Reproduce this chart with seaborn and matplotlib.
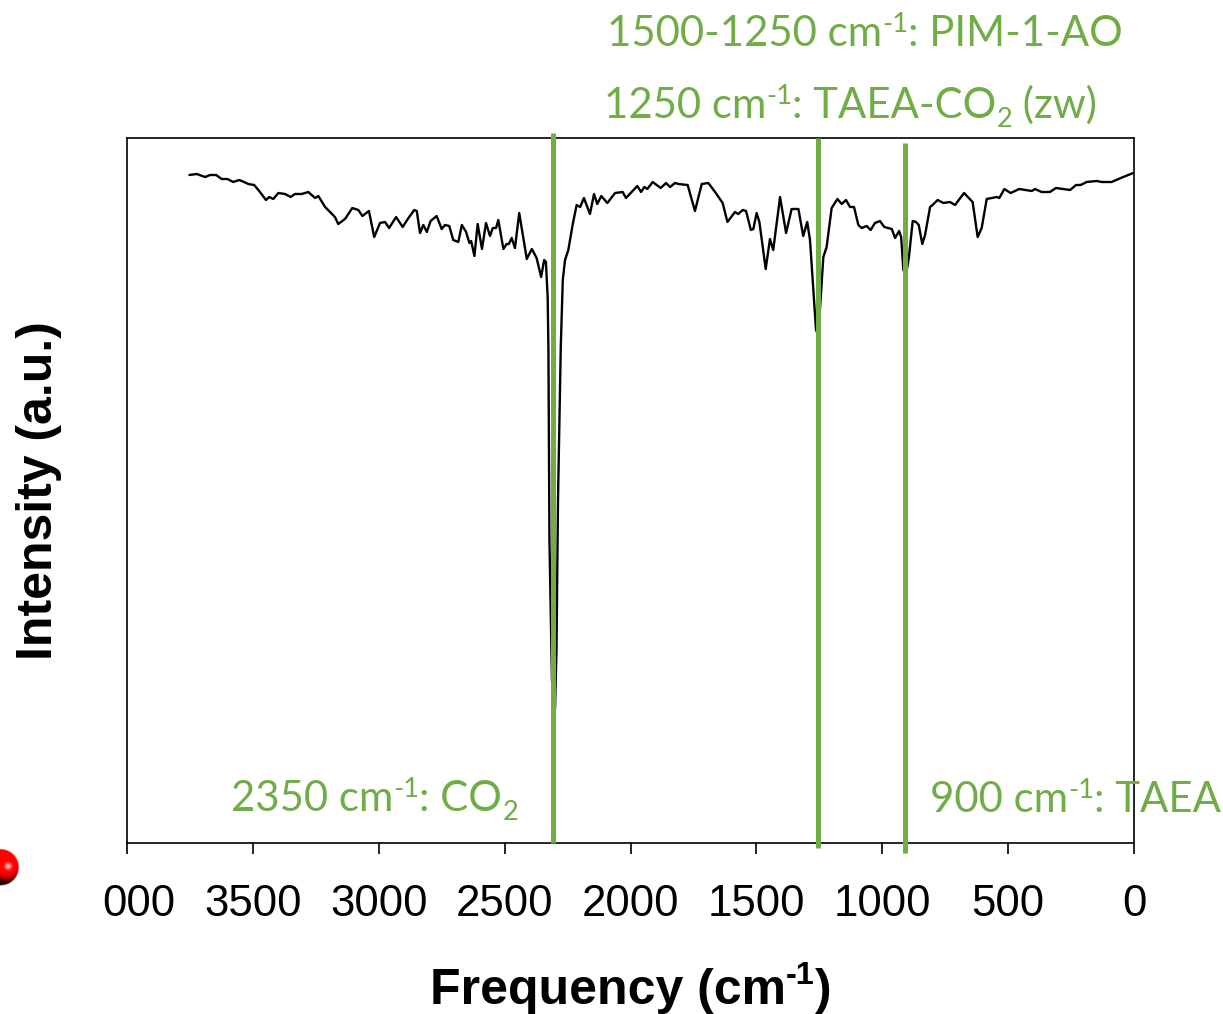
"""IR spectrum with annotated CO2 / TAEA band positions."""
import matplotlib
matplotlib.use("Agg")
import matplotlib.pyplot as plt
from matplotlib.transforms import ScaledTranslation
import numpy as np
import seaborn as sns

W, H = 1223, 1014
GREEN = "#70AD47"

frequency = [
    3752, 3723, 3690, 3670, 3646, 3624, 3601, 3578, 3554, 3535, 3518, 3495, 3478, 3448, 3435, 3419,
    3399, 3372, 3350, 3333, 3306, 3280, 3253, 3240, 3213, 3174, 3161, 3134, 3105, 3081, 3065, 3039,
    3018, 2995, 2975, 2959, 2931, 2905, 2882, 2859, 2849, 2836, 2823, 2809, 2794, 2770, 2750, 2737,
    2720, 2704, 2684, 2670, 2653, 2640, 2633, 2620, 2607, 2590, 2574, 2558, 2547, 2534, 2525, 2505,
    2492, 2483, 2472, 2459, 2442, 2412, 2392, 2373, 2355, 2343, 2336, 2329, 2326, 2322, 2312, 2300,
    2294, 2288, 2277, 2273, 2269, 2260, 2247, 2230, 2214, 2200, 2185, 2161, 2145, 2132, 2116, 2092,
    2061, 2031, 2018, 1973, 1958, 1945, 1933, 1912, 1880, 1859, 1843, 1823, 1810, 1773, 1744, 1717,
    1691, 1664, 1634, 1615, 1585, 1572, 1554, 1541, 1522, 1512, 1499, 1488, 1463, 1446, 1433, 1406,
    1382, 1360, 1333, 1314, 1298, 1287, 1263, 1254, 1234, 1221, 1201, 1178, 1161, 1144, 1128, 1112,
    1095, 1082, 1062, 1046, 1029, 1009, 992, 962, 949, 933, 925, 916, 906, 894, 879, 866,
    855, 841, 830, 810, 800, 780, 757, 731, 711, 675, 641, 621, 605, 585, 545, 535,
    515, 490, 456, 406, 393, 367, 334, 310, 254, 230, 212, 188, 148, 128, 89, 43, 3,
]
intensity = [
    668, 669, 666, 668, 668, 664, 664, 661, 663, 661, 659, 658, 653, 643, 646, 644,
    650, 649, 646, 649, 649, 651, 645, 647, 636, 626, 619, 624, 635, 633, 627, 632,
    606, 620, 621, 615, 626, 616, 625, 633, 632, 610, 618, 611, 622, 627, 614, 618,
    617, 603, 601, 618, 611, 600, 602, 587, 619, 594, 620, 607, 615, 615, 623, 594,
    599, 599, 605, 595, 630, 584, 594, 585, 566, 583, 581, 546, 493, 303, 163, 133,
    193, 343, 496, 530, 563, 583, 593, 618, 638, 636, 645, 629, 649, 639, 647, 640,
    650, 651, 645, 657, 651, 656, 654, 661, 655, 660, 656, 660, 659, 658, 632, 659,
    660, 651, 640, 621, 631, 629, 633, 632, 613, 614, 630, 621, 574, 604, 593, 646,
    610, 634, 634, 607, 621, 603, 513, 508, 586, 596, 635, 644, 639, 643, 636, 636,
    618, 615, 617, 613, 620, 622, 616, 614, 605, 612, 606, 573, 568, 586, 622, 621,
    618, 599, 608, 636, 638, 643, 640, 641, 638, 650, 641, 606, 615, 644, 646, 645,
    654, 650, 654, 652, 654, 651, 651, 655, 653, 658, 658, 661, 662, 661, 661, 666, 670,
]
band_positions = [2308, 1255, 910]
band_tops = [710, 705, 700]
band_bottoms = [0, -5, -10]
x_ticks = [4000, 3500, 3000, 2500, 2000, 1500, 1000, 500, 0]
x_tick_labels = ["000", "3500", "3000", "2500", "2000", "1500", "1000", "500", "0"]

sns.set_theme(style="white")
plt.rcParams["font.family"] = ["Liberation Sans", "DejaVu Sans"]


def rich_text(fig, x, y, pieces, size, **kwargs):
    """Write (text, shift) pieces in a row from pixel x, y; shift is px up, non-zero means smaller text."""
    renderer = fig.canvas.get_renderer()
    for text, shift in pieces:
        font_size = size if shift == 0 else size * 0.65
        t = fig.text(x / W, 1 - (y - shift) / H, text, fontsize=font_size, ha="left", va="baseline", **kwargs)
        # bars around the text keep edge spaces in the measured width
        t.set_text("|" + text + "|")
        with_bars = t.get_window_extent(renderer).width
        t.set_text("||")
        x += with_bars - t.get_window_extent(renderer).width
        t.set_text(text)


fig = plt.figure(figsize=(W / 100, H / 100), dpi=100)
ax = fig.add_axes([127 / W, 1 - 843 / H, 1007 / W, 705 / H])

sns.lineplot(x=frequency, y=intensity, sort=False, estimator=None, color="black", linewidth=1.7,
             solid_joinstyle="round", ax=ax)
for pos, top, bottom in zip(band_positions, band_tops, band_bottoms):
    ax.plot([pos, pos], [bottom, top], color=GREEN, linewidth=3.6, clip_on=False, solid_capstyle="butt", zorder=4)

ax.set_xlim(4000, 0)
ax.set_ylim(0, 705)
ax.set_yticks([])
ax.set_xticks(x_ticks)
ax.set_xticklabels(x_tick_labels, fontsize=31.5)
ax.tick_params(axis="x", direction="out", length=8, width=1.2, color="black", labelcolor="black", pad=21.5, bottom=True)
for spine in ax.spines.values():
    spine.set_color("black")
    spine.set_linewidth(1.2)

# the first label has its leading digit cut off, so it sits right of its tick
first = ax.get_xticklabels()[0]
first.set_transform(first.get_transform() + ScaledTranslation(12 / 100, 0, fig.dpi_scale_trans))

rich_text(fig, 430, 1004, [("Frequency (cm", 0), ("-1", 20), (")", 0)], 36, fontweight="bold", color="black")
fig.text(62 / W, 1 - 491 / H, "Intensity (a.u.)", fontsize=36, fontweight="bold", rotation=90,
         ha="right", va="center", color="black")

# band annotations
rich_text(fig, 607, 46, [("1500-1250 cm", 0), ("-1", 14), (": PIM-1-AO", 0)], 30.2, color=GREEN, family="Lato")
rich_text(fig, 604, 118, [("1250 cm", 0), ("-1", 14), (": TAEA-CO", 0), ("2", -9), (" (zw)", 0)], 30.2, color=GREEN, family="Lato")
rich_text(fig, 231, 811, [("2350 cm", 0), ("-1", 14), (": CO", 0), ("2", -9)], 30.2, color=GREEN, family="Lato")
rich_text(fig, 930, 812, [("900 cm", 0), ("-1", 14), (": TAEA", 0)], 30.2, color=GREEN, family="Lato")

# red sphere cut by the left edge of the picture
overlay = fig.add_axes([0, 0, 1, 1], facecolor="none")
overlay.set_xlim(0, W)
overlay.set_ylim(H, 0)
overlay.axis("off")
px, py = np.meshgrid(np.arange(0, 24, 0.5), np.arange(844, 892, 0.5))
inside = np.clip(18.5 - np.hypot(px - 0.5, py - 867), 0, 1)
glow = np.exp(-(np.hypot(px - 8, py - 866) / 3.0) ** 2)
shade = np.clip(1.15 - (np.hypot(px - 6, py - 862) / 27) ** 3 * 2.4, 0.1, 1)
sphere = np.dstack([np.clip(shade + glow, 0, 1), glow * 0.85, glow * 0.85, inside])
overlay.imshow(sphere, extent=(0, 24, 892, 844), interpolation="bilinear", aspect="auto", zorder=5)
overlay.set_xlim(0, W)
overlay.set_ylim(H, 0)

fig.savefig("out.png", dpi=100)
plt.close(fig)
